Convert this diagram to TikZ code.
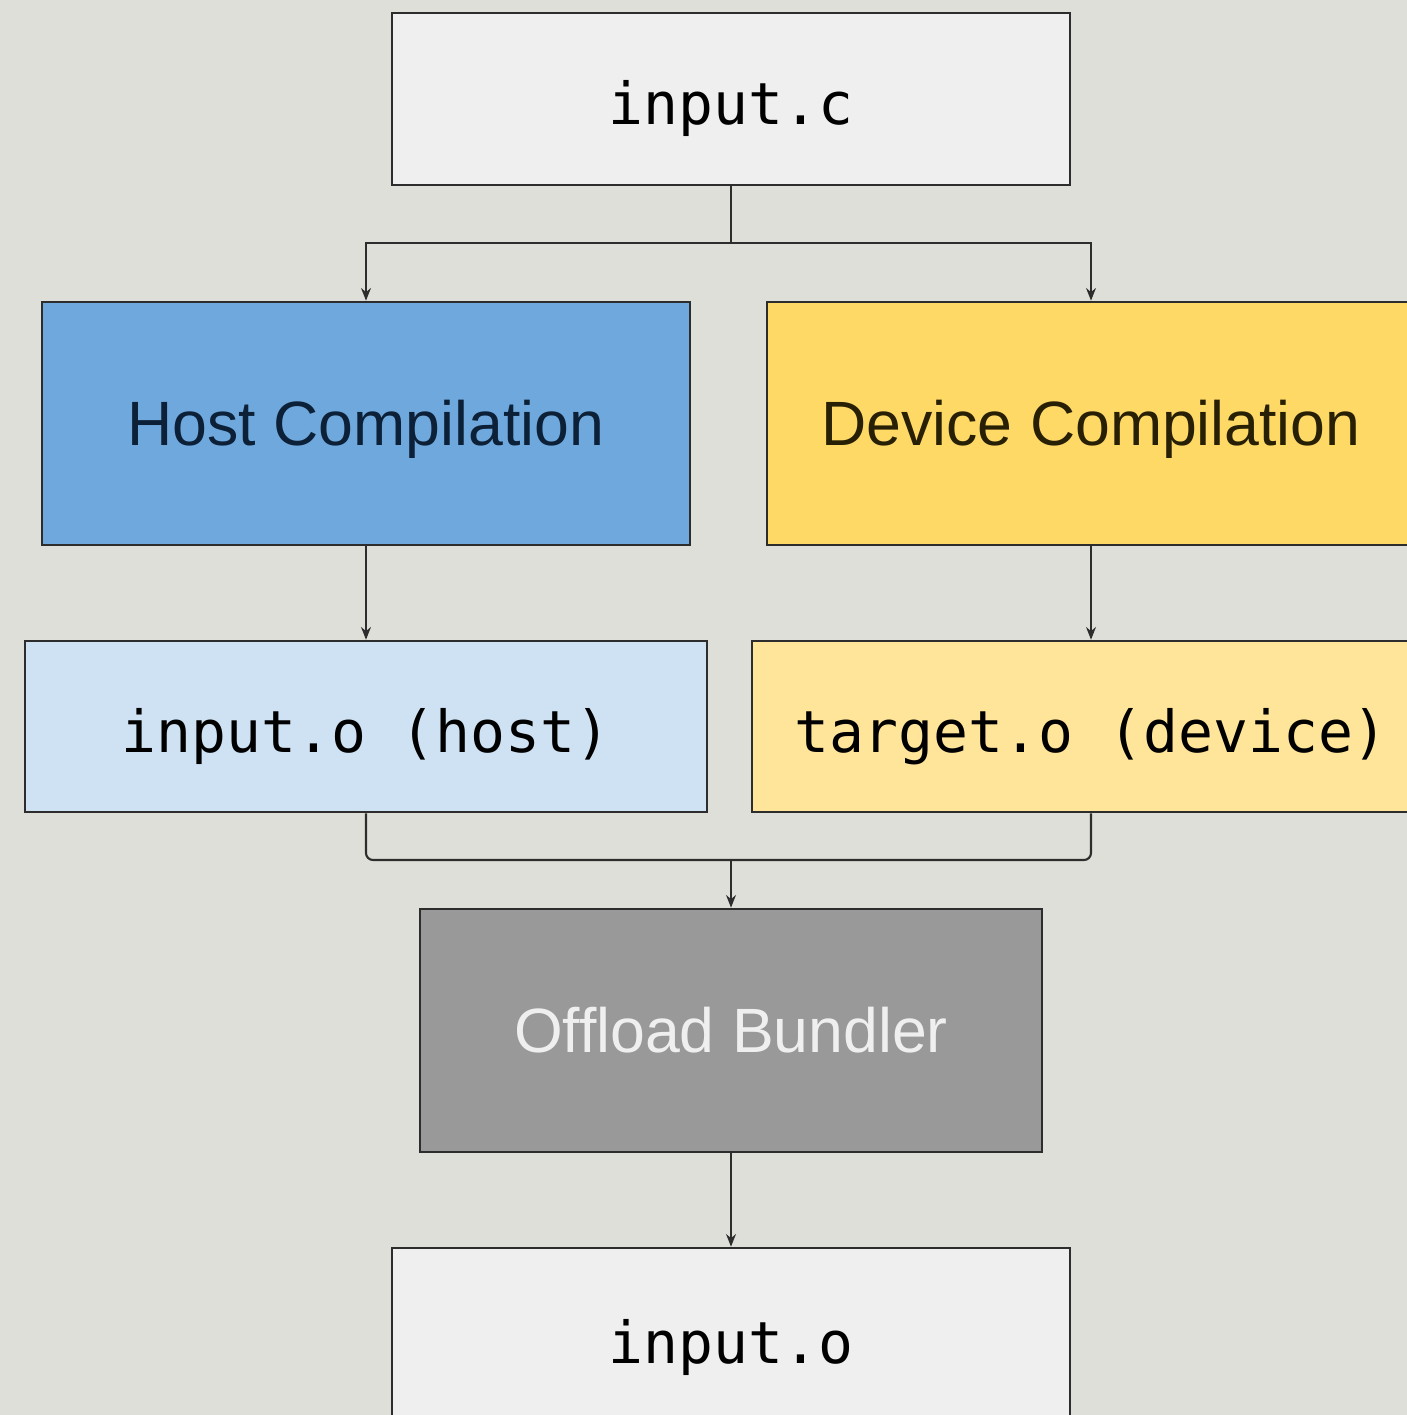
\documentclass[tikz,border=0pt]{standalone}
\usepackage{fontspec}
\setmainfont{Liberation Sans}
\newfontfamily\codefont{DejaVu Sans Mono}
\usetikzlibrary{arrows.meta}

\definecolor{bgcol}{RGB}{223,223,217}
\definecolor{filecol}{RGB}{239,239,239}
\definecolor{hostcol}{RGB}{111,168,220}
\definecolor{hostfile}{RGB}{207,226,243}
\definecolor{devcol}{RGB}{255,217,102}
\definecolor{devfile}{RGB}{255,229,153}
\definecolor{bundcol}{RGB}{153,153,153}
\definecolor{edgecol}{RGB}{45,45,45}
\definecolor{hosttext}{RGB}{12,32,56}
\definecolor{devtext}{RGB}{40,32,5}

\tikzset{
  box/.style={draw=edgecol, line width=0.7pt, inner sep=0pt, anchor=center},
  stage/.style={box, font=\fontsize{17.8}{20}\selectfont, text height=12.7pt, text depth=0pt},
  filebox/.style={box, font=\codefont\fontsize{16.5}{19}\selectfont, text height=14.6pt, text depth=0pt},
  arr/.style={draw=edgecol, line width=0.6pt, -{Stealth[length=3.6pt,width=2.8pt]}},
  link/.style={draw=edgecol, line width=0.6pt},
}

\begin{document}
\begin{tikzpicture}[x=0.01cm, y=-0.01cm]
  \useasboundingbox (0,0) rectangle (1407,1415);
  \clip (0,0) rectangle (1407,1415);
  \fill[bgcol] (0,0) rectangle (1407,1415);

  % source file
  \node[filebox, fill=filecol, minimum width=6.78cm, minimum height=1.72cm]
    (inc) at (731,99) {input.c};

  % compilation stages
  \node[stage, fill=hostcol, text=hosttext, minimum width=6.48cm, minimum height=2.43cm]
    (host) at (366,423.5) {Host Compilation};
  \node[stage, fill=devcol, text=devtext, minimum width=6.48cm, minimum height=2.43cm]
    (dev) at (1091,423.5) {Device Compilation};

  % object files
  \node[filebox, fill=hostfile, minimum width=6.82cm, minimum height=1.71cm]
    (hosto) at (366,726.5) {input.o (host)};
  \node[filebox, fill=devfile, minimum width=6.78cm, minimum height=1.71cm]
    (targ) at (1091,726.5) {target.o (device)};

  % bundler
  \node[stage, fill=bundcol, text=filecol, minimum width=6.22cm, minimum height=2.43cm]
    (bund) at (731,1030.5) {Offload Bundler};

  % bundled output
  \node[filebox, fill=filecol, minimum width=6.78cm, minimum height=1.80cm]
    (out) at (731,1338) {input.o};

  % connectors
  \coordinate (split) at (731,243);
  \coordinate (join) at (731,860);

  \draw[link] (inc.south) -- (split);
  \draw[arr] (split) -| (host.north);
  \draw[arr] (split) -| (dev.north);

  \draw[arr] (host.south) -- (hosto.north);
  \draw[arr] (dev.south) -- (targ.north);

  \draw[link, rounded corners=2pt] (hosto.south) |- (join) -| (targ.south);
  \draw[arr] (join) -- (bund.north);

  \draw[arr] (bund.south) -- (out.north);
\end{tikzpicture}
\end{document}
